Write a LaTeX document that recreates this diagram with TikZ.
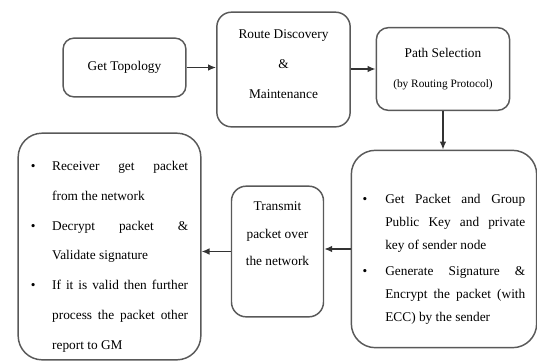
\documentclass[tikz,border=0pt]{standalone}
\usepackage{fontspec}
\setmainfont{Liberation Serif}
\usetikzlibrary{arrows.meta}
\hbadness=10000
\hfuzz=2pt

% bullet item with hanging text
\newcommand{\bitem}[2][16pt]{\par\noindent\hangindent=#1\hangafter=1\makebox[#1][l]{\textbullet}#2\par}

\tikzset{
    box/.style={draw=black!65, line width=1.1pt, rounded corners=#1, align=center, inner sep=0pt},
    box/.default=8pt,
    flow/.style={-{Latex[length=6pt,width=5pt]}, line width=1.1pt, black!80},
}

\begin{document}
\begin{tikzpicture}[x=0.75pt,y=-0.75pt]
        \useasboundingbox (0,0) rectangle (537,362);

        %prima riga
        \node[box, minimum width=92pt, minimum height=44pt,
              font=\fontsize{10pt}{22.5pt}\selectfont] (topo) at (124.5,67.5) {Get Topology};
        \node[box=11pt, minimum width=100pt, minimum height=86pt,
              font=\fontsize{10pt}{22.5pt}\selectfont] (route) at (283.5,69.5)
              {Route Discovery\\\&\\Maintenance\\[-15pt]\mbox{}};
        \node[box=9pt, minimum width=100pt, minimum height=62pt,
              font=\fontsize{10pt}{22.5pt}\selectfont] (path) at (443,69)
              {Path Selection\\{\fontsize{8.5pt}{22.5pt}\selectfont(by Routing Protocol)}};

        %seconda riga
        \node[box=18pt, minimum width=139pt, minimum height=148pt, text width=122pt, align=justify,
              font=\fontsize{10pt}{17.5pt}\selectfont] (packet) at (444,249)
              {\vspace*{5pt}%
               \bitem[17pt]{Get Packet and Group\linebreak Public Key and private\linebreak key of sender node}%
               \vspace{1.5pt}%
               \bitem[17pt]{Generate Signature \&\linebreak Encrypt the packet (with\linebreak ECC) by the sender}};
        \node[box=11pt, minimum width=69pt, minimum height=98pt,
              font=\fontsize{10pt}{20.6pt}\selectfont] (trans) at (277.5,251.5)
              {Transmit\\packet over\\the network\\\strut};
        \node[box=18pt, minimum width=137pt, minimum height=170pt, text width=118pt, align=justify,
              font=\fontsize{10pt}{22.3pt}\selectfont] (recv) at (109.5,246.5)
              {\bitem{Receiver get packet\linebreak from the network}%
               \bitem{Decrypt packet \&\linebreak Validate signature}%
               \bitem{If it is valid then further\linebreak process the packet other\linebreak report to GM}};

        %frecce
        \draw[flow] (topo.east) -- (topo.east -| route.west);
        \draw[flow] (route.east |- path.west) -- (path.west);
        \draw[flow] (path.south) -- (path.south |- packet.north);
        \draw[flow] (packet.west) -- (packet.west -| trans.east);
        \draw[flow] (trans.west) -- (trans.west -| recv.east);
\end{tikzpicture}
\end{document}
